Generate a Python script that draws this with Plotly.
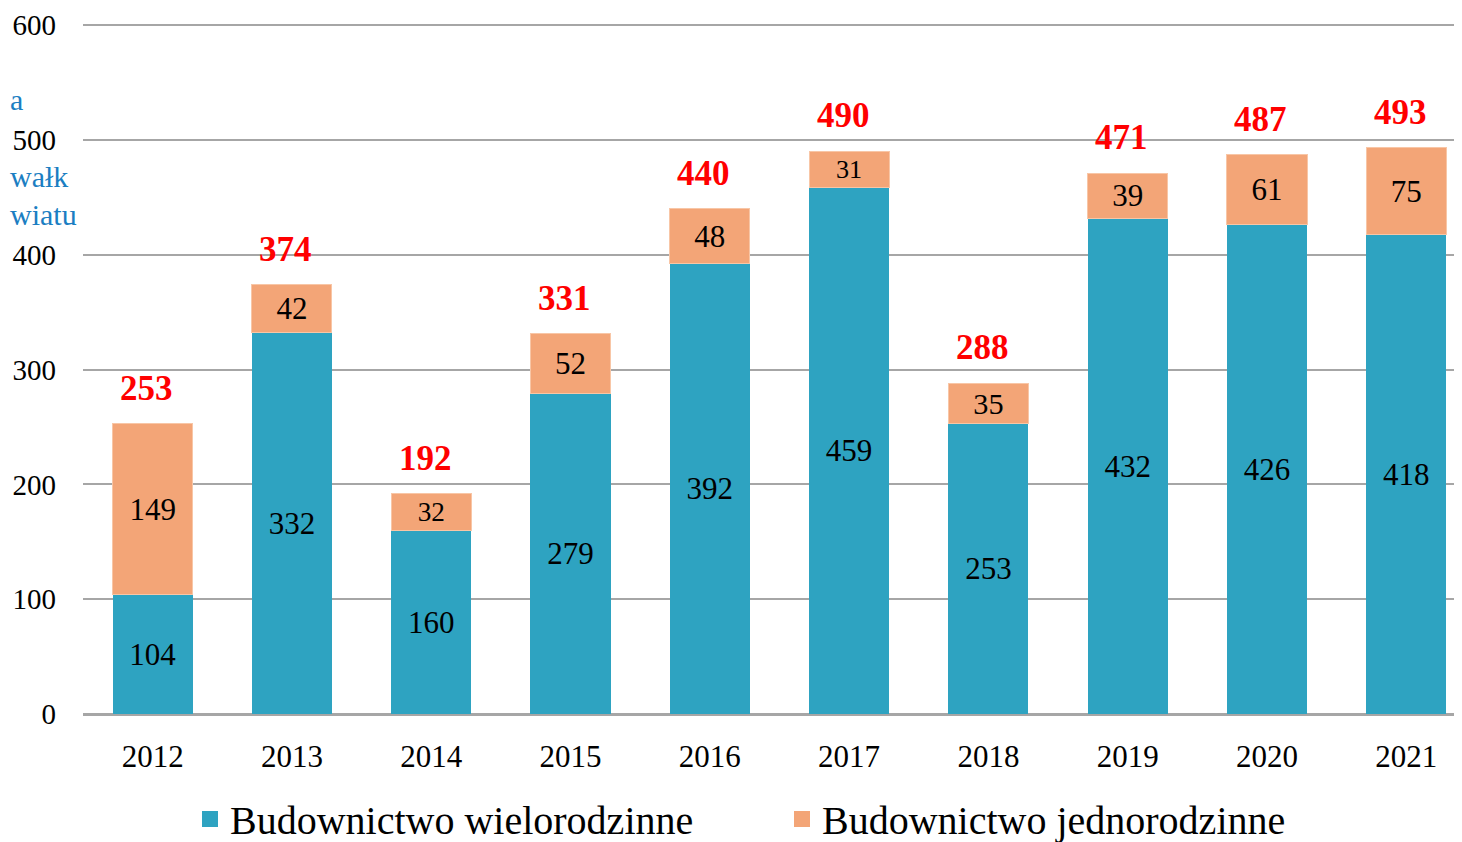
import plotly.graph_objects as go

years = ["2012", "2013", "2014", "2015", "2016", "2017", "2018", "2019", "2020", "2021"]
multi = [104, 332, 160, 279, 392, 459, 253, 432, 426, 418]
single = [149, 42, 32, 52, 48, 31, 35, 39, 61, 75]
totals = [253, 374, 192, 331, 440, 490, 288, 471, 487, 493]
name_multi = "Budownictwo wielorodzinne"
name_single = "Budownictwo jednorodzinne"
side_text = ["a", "wałk", "wiatu"]
side_y = [100, 176, 214]

BLUE = "#2EA3C1"
ORANGE = "#F3A577"
FONT = "Liberation Serif"

# page body has an 8px margin: compensate so the plot lands where the reference has it
L, T, PW, PH = 75, 16, 1379, 690

fig = go.Figure()
fig.add_trace(go.Bar(
    x=years, y=multi, name=name_multi, marker=dict(color=BLUE, line=dict(width=0)),
    text=multi, textposition="inside", insidetextanchor="middle", showlegend=False,
    textfont=dict(family=FONT, size=31, color="black"), textangle=0,
))
fig.add_trace(go.Bar(
    x=years, y=single, name=name_single, showlegend=False,
    marker=dict(color=ORANGE, line=dict(width=1, color="#F8C6A6")),
    text=single, textposition="inside", insidetextanchor="middle",
    textfont=dict(family=FONT, size=31, color="black"), textangle=0,
))
# legend entries with larger square symbols
fig.add_trace(go.Scatter(x=[None], y=[None], mode="markers", name=name_multi,
                         marker=dict(symbol="square", size=20, color=BLUE)))
fig.add_trace(go.Scatter(x=[None], y=[None], mode="markers", name=name_single,
                         marker=dict(symbol="square", size=20, color=ORANGE)))

for i, t in enumerate(totals):
    fig.add_annotation(x=i, y=t, text=f"<b>{t}</b>", showarrow=False,
                       yanchor="bottom", yshift=14, xshift=-6,
                       font=dict(family=FONT, size=35, color="#FF0000"))

for txt, yy in zip(side_text, side_y):
    fig.add_annotation(xref="paper", yref="paper", x=-L / PW, y=(714 - yy) / PH,
                       text=txt, showarrow=False, xanchor="left", yanchor="middle",
                       font=dict(family=FONT, size=30, color="#1B7EC2"))

fig.update_layout(
    width=1462, height=842,
    margin=dict(l=L, r=1462 - L - PW, t=T, b=842 - T - PH, autoexpand=False),
    paper_bgcolor="white", plot_bgcolor="white",
    barmode="stack", bargap=0.425,
    font=dict(family=FONT, size=28, color="black"),
    xaxis=dict(type="category", range=[-0.5, 9.4], showgrid=False, showline=True,
               linecolor="#A6A6A6", linewidth=2, ticks="",
               tickfont=dict(family=FONT, size=31), ticklabelstandoff=14,
               fixedrange=True, automargin=False),
    yaxis=dict(range=[0, 601], dtick=100, tick0=0, showgrid=True, gridcolor="#A6A6A6",
               gridwidth=2, zeroline=True, zerolinecolor="#A6A6A6", zerolinewidth=2,
               tickfont=dict(family=FONT, size=29), ticklabelstandoff=26,
               fixedrange=True, automargin=False),
    legend=dict(orientation="h", x=(182 - L) / PW, xanchor="left", y=-0.152,
                yanchor="middle", font=dict(family=FONT, size=40), traceorder="normal",
                entrywidth=547, entrywidthmode="pixels", itemsizing="trace"),
    showlegend=True,
)

fig.write_html("out.html")
